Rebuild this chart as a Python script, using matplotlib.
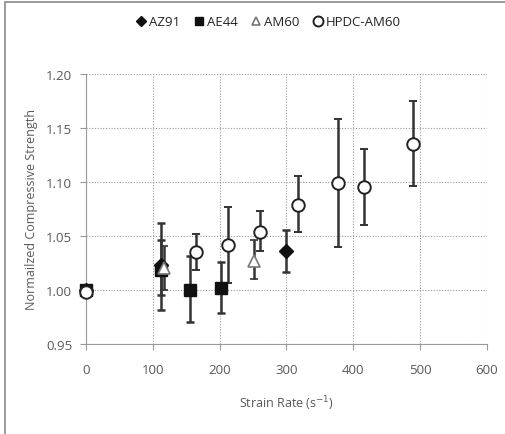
import numpy as np
import matplotlib
matplotlib.use("Agg")
import matplotlib.pyplot as plt
from matplotlib.patches import Rectangle

# strain rate (1/s), normalized strength, error bars (lower, upper)
az91_x = [0, 113, 300]
az91_y = [1.000, 1.023, 1.036]
az91_lo = [0.0, 0.042, 0.019]
az91_hi = [0.0, 0.039, 0.019]

ae44_x = [0, 113, 156, 202]
ae44_y = [1.000, 1.018, 1.000, 1.002]
ae44_lo = [0.0, 0.023, 0.030, 0.023]
ae44_hi = [0.0, 0.028, 0.031, 0.024]

am60_x = [117, 251]
am60_y = [1.020, 1.027]
am60_lo = [0.020, 0.017]
am60_hi = [0.021, 0.019]

hpdc_x = [0, 165, 212, 260, 317, 377, 416, 490]
hpdc_y = [0.998, 1.035, 1.042, 1.054, 1.079, 1.099, 1.095, 1.135]
hpdc_lo = [0.0, 0.017, 0.036, 0.018, 0.025, 0.059, 0.035, 0.039]
hpdc_hi = [0.0, 0.017, 0.035, 0.019, 0.026, 0.059, 0.035, 0.040]

xticks = [0, 100, 200, 300, 400, 500, 600]
yticks = [0.95, 1.00, 1.05, 1.10, 1.15, 1.20]

plt.rcParams['font.family'] = ['Open Sans', 'DejaVu Sans']
txt = '#595959'

fig = plt.figure(figsize=(5.06, 4.35), dpi=100)
ax = fig.add_axes([0.170, 0.207, 0.792, 0.621])

eb = dict(ecolor='#333333', elinewidth=1.8, capsize=3, capthick=1.8, linestyle='none', zorder=3)
conts = []
conts.append(ax.errorbar(az91_x, az91_y, yerr=[az91_lo, az91_hi], marker='D', ms=7, mfc='#111111',
                         mec='#111111', label='AZ91', **eb))
conts.append(ax.errorbar(ae44_x, ae44_y, yerr=[ae44_lo, ae44_hi], marker='s', ms=8, mfc='#111111',
                         mec='#111111', label='AE44', **eb))
conts.append(ax.errorbar(am60_x, am60_y, yerr=[am60_lo, am60_hi], marker='^', ms=8, mfc='white',
                         mec='#777777', mew=1.2, label='AM60', **eb))
conts.append(ax.errorbar(hpdc_x, hpdc_y, yerr=[hpdc_lo, hpdc_hi], marker='o', ms=9, mfc='white',
                         mec='#222222', mew=1.4, label='HPDC-AM60', **eb))
for c in conts:
    c[0].set_clip_on(False)

ax.set_xlim(0, 600)
ax.set_ylim(0.95, 1.20)
ax.set_xticks(xticks)
ax.set_yticks(yticks)
ax.set_yticklabels(['%.2f' % v for v in yticks])
ax.grid(True, color='#999999', linestyle=(0, (1, 1.5)), linewidth=0.8)
ax.set_axisbelow(True)
for s in ['top', 'right']:
    ax.spines[s].set_visible(False)
for s in ['left', 'bottom']:
    ax.spines[s].set_color('#999999')
ax.tick_params(colors='#999999', labelcolor=txt, labelsize=9.5, length=4, width=0.8)
ax.tick_params(axis='x', pad=10)
ax.tick_params(axis='y', pad=6)
ax.set_xlabel('Strain Rate (s$^{-1}$)', color=txt, fontsize=9, labelpad=12)
ax.set_ylabel('Normailzed Compressive Strength', color=txt, fontsize=9, labelpad=6)

h, l = ax.get_legend_handles_labels()
leg = fig.legend([hh[0] for hh in h], l, loc='center',
                 bbox_to_anchor=(0.53, 0.948), ncol=4, frameon=False, fontsize=9.5,
                 handlelength=0.8, handletextpad=0.2, columnspacing=1.0, markerscale=0.8)
for t in leg.get_texts():
    t.set_color('#222222')

fig.patches.append(Rectangle((0.010, -0.01), 1.2, 1.003, transform=fig.transFigure,
                             fill=False, edgecolor='#888888', linewidth=1.2))

fig.savefig('out.png', dpi=100)
